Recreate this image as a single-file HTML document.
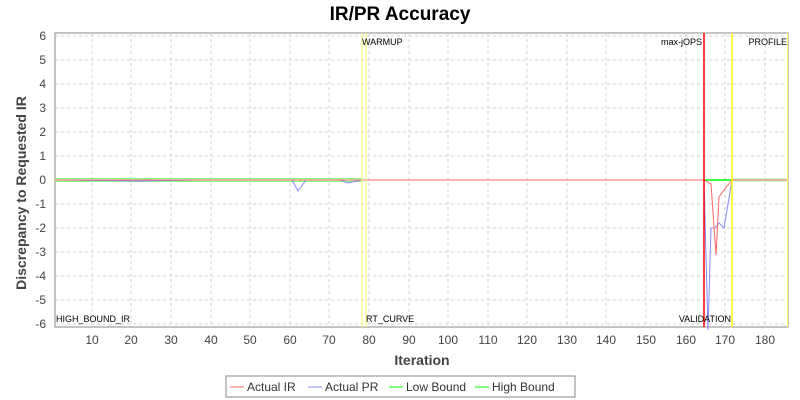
<!DOCTYPE html><html><head><style>body{margin:0;background:#fff}svg{display:block}text{font-family:"Liberation Sans","DejaVu Sans",sans-serif}</style></head><body>
<svg width="800" height="400" viewBox="0 0 800 400">
<text x="400" y="20" text-anchor="middle" font-size="19" font-weight="bold" fill="#000">IR/PR Accuracy</text>
<rect x="55" y="33" width="733" height="294" fill="#fff" stroke="#888"/>
<g stroke="#d0d0d0" stroke-dasharray="3,3" stroke-width="1">
<line x1="55" x2="788" y1="36" y2="36"/><line x1="55" x2="788" y1="60" y2="60"/><line x1="55" x2="788" y1="84" y2="84"/><line x1="55" x2="788" y1="108" y2="108"/><line x1="55" x2="788" y1="132" y2="132"/><line x1="55" x2="788" y1="156" y2="156"/><line x1="55" x2="788" y1="204" y2="204"/><line x1="55" x2="788" y1="228" y2="228"/><line x1="55" x2="788" y1="252" y2="252"/><line x1="55" x2="788" y1="276" y2="276"/><line x1="55" x2="788" y1="300" y2="300"/><line x1="55" x2="788" y1="324" y2="324"/>
<line y1="33" y2="327" x1="92" x2="92"/><line y1="33" y2="327" x1="131" x2="131"/><line y1="33" y2="327" x1="171" x2="171"/><line y1="33" y2="327" x1="211" x2="211"/><line y1="33" y2="327" x1="250" x2="250"/><line y1="33" y2="327" x1="290" x2="290"/><line y1="33" y2="327" x1="329" x2="329"/><line y1="33" y2="327" x1="369" x2="369"/><line y1="33" y2="327" x1="409" x2="409"/><line y1="33" y2="327" x1="448" x2="448"/><line y1="33" y2="327" x1="488" x2="488"/><line y1="33" y2="327" x1="527" x2="527"/><line y1="33" y2="327" x1="567" x2="567"/><line y1="33" y2="327" x1="606" x2="606"/><line y1="33" y2="327" x1="646" x2="646"/><line y1="33" y2="327" x1="686" x2="686"/><line y1="33" y2="327" x1="725" x2="725"/><line y1="33" y2="327" x1="765" x2="765"/>
</g>
<rect x="55" y="178" width="307" height="4" fill="#bfb" opacity="0.7"/>
<rect x="732" y="178" width="56" height="4" fill="#bfb" opacity="0.7"/>
<line x1="55" x2="362" y1="178.5" y2="178.5" stroke="#6f6" stroke-width="0.8"/>
<line x1="55" x2="362" y1="181.5" y2="181.5" stroke="#6f6" stroke-width="0.8"/>
<line x1="704" x2="732" y1="180" y2="180" stroke="#0f0" stroke-width="1.5"/>
<polyline fill="none" stroke="#88f" stroke-width="1" points="55,180 140,181 200,180 292,180 298,191 306,180 340,180 348,183 362,180 704,180 708,330 711,228 715,228 719,223 724,228 732,180 788,180"/>
<polyline fill="none" stroke="#f66" stroke-width="1" points="55,180 704,180 711,184 716,255 719,197 724,190 732,180 788,180"/>
<line x1="362" x2="362" y1="33" y2="327" stroke="#ff6" stroke-width="1"/>
<line x1="366" x2="366" y1="33" y2="327" stroke="#ff6" stroke-width="1"/>
<line x1="732" x2="732" y1="33" y2="327" stroke="#ff0" stroke-width="1.5"/>
<line x1="787.5" x2="787.5" y1="33" y2="327" stroke="#ff6" stroke-width="1"/>
<line x1="704" x2="704" y1="33" y2="327" stroke="#f00" stroke-width="1.5"/>
<g font-size="9" fill="#000">
<text x="362" y="45">WARMUP</text><text x="702" y="45" text-anchor="end">max-jOPS</text><text x="787" y="45" text-anchor="end">PROFILE</text>
<text x="56" y="322">HIGH_BOUND_IR</text><text x="366" y="322">RT_CURVE</text><text x="731" y="322" text-anchor="end">VALIDATION</text>
</g>
<g font-size="12" fill="#444" text-anchor="end">
<text x="46" y="40">6</text><text x="46" y="64">5</text><text x="46" y="88">4</text><text x="46" y="112">3</text><text x="46" y="136">2</text><text x="46" y="160">1</text><text x="46" y="184">0</text><text x="46" y="208">-1</text><text x="46" y="232">-2</text><text x="46" y="256">-3</text><text x="46" y="280">-4</text><text x="46" y="304">-5</text><text x="46" y="328">-6</text>
</g>
<g font-size="12" fill="#444" text-anchor="middle">
<text x="92" y="344">10</text><text x="131" y="344">20</text><text x="171" y="344">30</text><text x="211" y="344">40</text><text x="250" y="344">50</text><text x="290" y="344">60</text><text x="329" y="344">70</text><text x="369" y="344">80</text><text x="409" y="344">90</text><text x="448" y="344">100</text><text x="488" y="344">110</text><text x="527" y="344">120</text><text x="567" y="344">130</text><text x="606" y="344">140</text><text x="646" y="344">150</text><text x="686" y="344">160</text><text x="725" y="344">170</text><text x="765" y="344">180</text>
</g>
<text x="422" y="365" text-anchor="middle" font-size="14" font-weight="bold" fill="#444">Iteration</text>
<text transform="translate(26,193) rotate(-90)" text-anchor="middle" font-size="14" font-weight="bold" fill="#444">Discrepancy to Requested IR</text>
<rect x="226" y="376" width="349" height="21" fill="#fff" stroke="#888"/>
<g font-size="12" fill="#333">
<line x1="230" x2="244" y1="387" y2="387" stroke="#f66"/><text x="247" y="391">Actual IR</text>
<line x1="308" x2="322" y1="387" y2="387" stroke="#88f"/><text x="325" y="391">Actual PR</text>
<line x1="389" x2="403" y1="387" y2="387" stroke="#0f0"/><text x="406" y="391">Low Bound</text>
<line x1="475" x2="489" y1="387" y2="387" stroke="#0f0"/><text x="492" y="391">High Bound</text>
</g>
</svg></body></html>
